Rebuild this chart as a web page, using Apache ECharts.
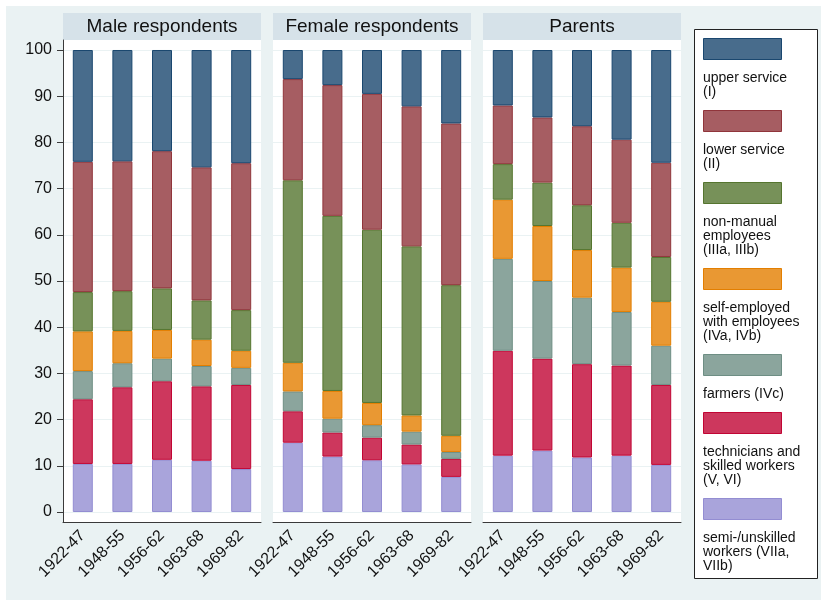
<!DOCTYPE html>
<html>
<head>
<meta charset="utf-8">
<script src="https://cdn.jsdelivr.net/npm/echarts@6/dist/echarts.min.js"></script>
<style>
  html, body { margin: 0; padding: 0; background: #fff; }
  #chart { width: 821px; height: 600px; }
</style>
</head>
<body>
<div id="chart"></div>
<script>
// --- data ---
const cohorts = ['1922-47', '1948-55', '1956-62', '1963-68', '1969-82']
const panelTitles = ['Male respondents', 'Female respondents', 'Parents']
const classLabels = [
  'upper service\n(I)',
  'lower service\n(II)',
  'non-manual\nemployees\n(IIIa, IIIb)',
  'self-employed\nwith employees\n(IVa, IVb)',
  'farmers (IVc)',
  'technicians and\nskilled workers\n(V, VI)',
  'semi-/unskilled\nworkers (VIIa,\nVIIb)'
]
const yTicks = [0, 10, 20, 30, 40, 50, 60, 70, 80, 90, 100]

// shares in %, rows follow classLabels (upper service first), one value per cohort
const maleValues = [
  [24.2, 24.1, 21.9, 25.4, 24.5],
  [28.2, 28.1, 29.7, 28.8, 31.8],
  [8.5, 8.6, 9.0, 8.5, 8.8],
  [8.6, 7.0, 6.2, 5.7, 3.7],
  [6.1, 5.2, 4.9, 4.4, 3.7],
  [14.0, 16.6, 17.0, 16.1, 18.2],
  [10.4, 10.4, 11.3, 11.1, 9.3]
]
const femaleValues = [
  [6.3, 7.6, 9.5, 12.2, 15.9],
  [21.9, 28.3, 29.4, 30.3, 35.0],
  [39.5, 37.9, 37.5, 36.6, 32.6],
  [6.2, 6.0, 4.8, 3.5, 3.5],
  [4.3, 3.0, 2.7, 2.8, 1.5],
  [6.8, 5.2, 4.9, 4.3, 3.9],
  [15.0, 12.0, 11.2, 10.3, 7.6]
]
const parentValues = [
  [12.0, 14.6, 16.5, 19.4, 24.4],
  [12.7, 14.1, 17.1, 18.0, 20.4],
  [7.7, 9.4, 9.7, 9.7, 9.7],
  [12.8, 11.9, 10.3, 9.6, 9.5],
  [19.9, 16.8, 14.4, 11.6, 8.5],
  [22.7, 19.9, 20.2, 19.5, 17.3],
  [12.2, 13.3, 11.8, 12.2, 10.2]
]

// --- styles (stata s2color look) ---
const FILLS = ['#486c8c', '#a65d62', '#779159', '#e99833', '#8ba59d', '#cd375d', '#a9a4db']
const LINES = ['#1a476f', '#90353b', '#55752f', '#e37e00', '#6e8e84', '#c10534', '#938dd2']
const FONT = '"Liberation Sans", Arial, Helvetica, sans-serif'
const OUTER_BG = '#eaf2f3'
const HEADER_BG = '#d6e2e9'
const AXIS_COLOR = '#3a3a3a'

const panelData = [maleValues, femaleValues, parentValues]
const panelLeft = [63, 273, 483]
const panelWidth = 198

const chart = echarts.init(document.getElementById('chart'))

const grids = []
const xAxes = []
const yAxes = []
const series = []

// frame grids (white plot region, axis lines, cohort labels)
panelLeft.forEach((left, i) => {
  grids.push({ left: left, top: 40, width: panelWidth, height: 482, show: true, backgroundColor: '#fff', borderWidth: 0 })
  xAxes.push({
    gridIndex: i,
    type: 'category',
    data: cohorts,
    axisLine: { lineStyle: { color: AXIS_COLOR, width: 1 } },
    axisTick: { alignWithLabel: true, length: 6, lineStyle: { color: AXIS_COLOR } },
    axisLabel: { rotate: 45, interval: 0, fontSize: 16, color: '#111', fontFamily: FONT, margin: 11 },
    splitLine: { show: false }
  })
  yAxes.push({
    gridIndex: i,
    type: 'value',
    min: 0,
    max: 1,
    axisLine: { show: i === 0, lineStyle: { color: AXIS_COLOR, width: 1 } },
    axisTick: { show: false },
    axisLabel: { show: false },
    splitLine: { show: false }
  })
})

// data grids
panelLeft.forEach((left, i) => {
  const g = grids.length
  grids.push({ left: left, top: 50, width: panelWidth, height: 462 })
  xAxes.push({ gridIndex: g, type: 'category', data: cohorts, show: false })
  yAxes.push({
    gridIndex: g,
    type: 'value',
    min: yTicks[0],
    max: yTicks[yTicks.length - 1],
    interval: yTicks[1] - yTicks[0],
    axisLine: { show: false },
    axisTick: { show: i === 0, length: 6, lineStyle: { color: AXIS_COLOR } },
    axisLabel: { show: i === 0, fontSize: 16, color: '#111', fontFamily: FONT, margin: 11 },
    splitLine: { lineStyle: { color: OUTER_BG, width: 1 } }
  })
  const values = panelData[i]
  // bottom of the stack is the last class (semi-/unskilled)
  for (let c = values.length - 1; c >= 0; c--) {
    series.push({
      type: 'bar',
      name: classLabels[c],
      xAxisIndex: g,
      yAxisIndex: g,
      stack: 'p' + i,
      barWidth: 20,
      silent: true,
      data: values[c],
      itemStyle: { color: FILLS[c], borderColor: LINES[c], borderWidth: 1 }
    })
  }
})

// --- graphic: background, panel headers, legend box ---
const graphics = [
  { type: 'rect', z: -10, shape: { x: 6, y: 6, width: 815, height: 594 }, style: { fill: OUTER_BG } }
]
panelLeft.forEach((left, i) => {
  graphics.push({ type: 'rect', shape: { x: left, y: 13, width: panelWidth, height: 27 }, style: { fill: HEADER_BG } })
  graphics.push({
    type: 'text',
    x: left + panelWidth / 2,
    y: 27,
    style: { text: panelTitles[i], fill: '#111', font: '19px ' + FONT, align: 'center', verticalAlign: 'middle' }
  })
})

graphics.push({
  type: 'rect',
  shape: { x: 694.5, y: 29.5, width: 123, height: 549 },
  style: { fill: '#fff', stroke: '#222', lineWidth: 1 }
})
let ly = 38
classLabels.forEach((label, c) => {
  const lines = label.split('\n').length
  graphics.push({
    type: 'rect',
    shape: { x: 703.5, y: ly + 0.5, width: 78, height: 21 },
    style: { fill: FILLS[c], stroke: LINES[c], lineWidth: 1 }
  })
  graphics.push({
    type: 'text',
    x: 703,
    y: ly + 33,
    style: { text: label, fill: '#111', font: '14px ' + FONT, lineHeight: 14, align: 'left', verticalAlign: 'top' }
  })
  ly += 44 + 14 * lines
})

const option = {
  backgroundColor: '#fff',
  animation: false,
  grid: grids,
  xAxis: xAxes,
  yAxis: yAxes,
  series: series,
  graphic: graphics
}

chart.setOption(option)
</script>
</body>
</html>
